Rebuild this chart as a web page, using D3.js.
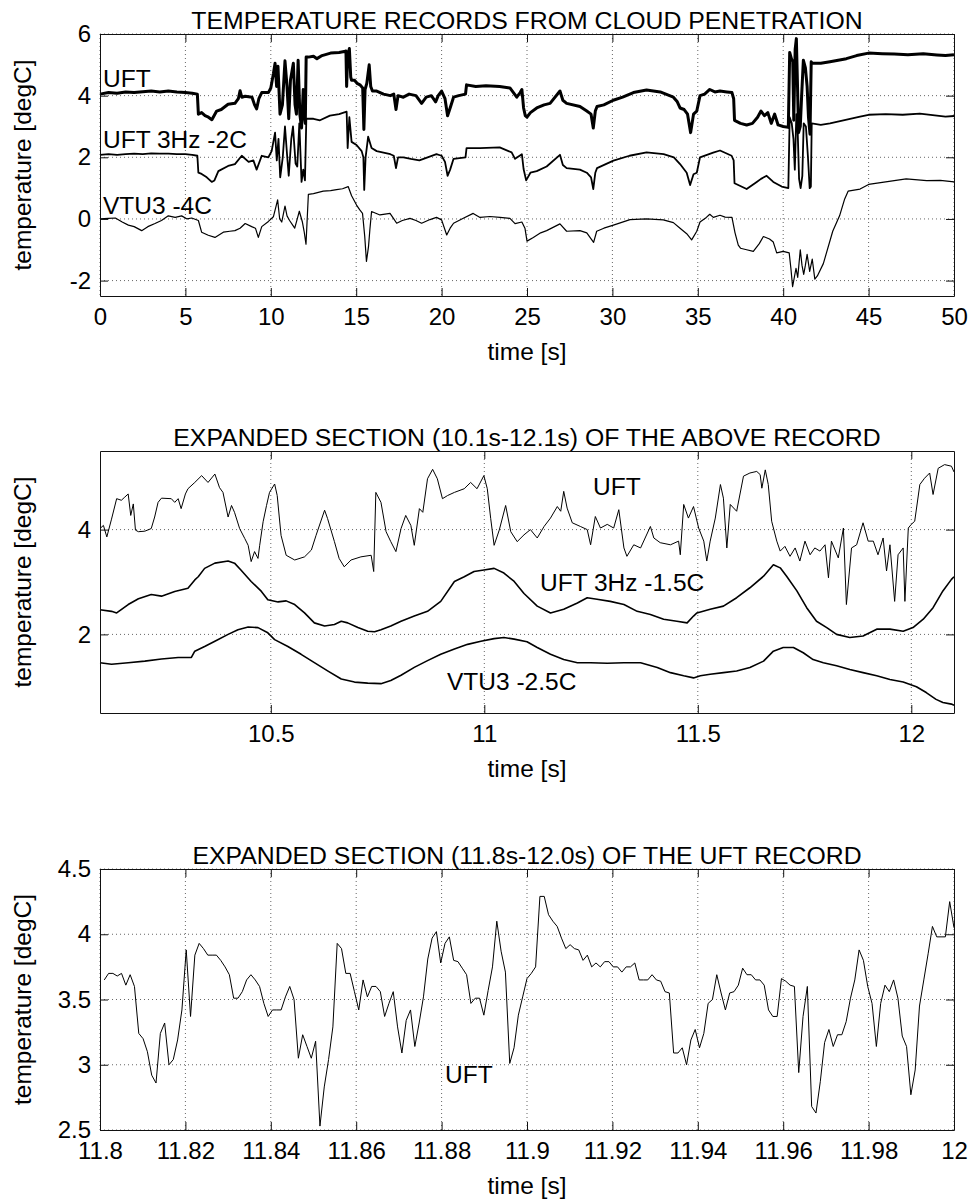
<!DOCTYPE html>
<html>
<head>
<meta charset="utf-8">
<script src="https://cdn.jsdelivr.net/npm/d3@7"></script>
<style>
  body { margin: 0; background: #fff; }
  text { font-family: "Liberation Sans", Arial, Helvetica, sans-serif; fill: #000; }
</style>
</head>
<body>
<svg width="972" height="1201"></svg>
<script>
// ---- panel 1: 0-50 s, [time, degC] ----
var uft = [[0,4.05],[0.5,4.1],[1,4.08],[1.5,4.12],[2,4.1],[2.5,4.13],[3,4.15],[3.5,4.12],[4,4.15],[4.5,4.12],[5,4.1],[5.4,4.08],[5.7,4.05],
  [5.76,3.4],[5.95,3.45],[6.15,3.35],[6.35,3.3],[6.55,3.22],[6.83,3.5],[7.1,3.55],[7.5,3.72],[7.9,3.75],[8.1,3.9],[8.2,4.16],[8.3,3.95],[8.5,3.98],[8.9,3.95],[9.05,3.7],[9.17,3.57],[9.3,3.9],[9.47,4.1],[9.86,4.1],
  [10.0,4.25],[10.15,4.7],[10.25,5.05],[10.34,4.3],[10.42,4.95],[10.54,3.4],[10.68,3.7],[10.83,5.13],[10.95,4.3],[11.05,3.25],[11.15,4.5],[11.32,5.05],[11.42,3.7],[11.5,3.4],[11.6,5.15],[11.7,3.4],[11.8,2.95],[11.9,4.2],[11.96,3.4],[12.02,3.1],[12.07,5.25],
  [12.2,5.25],[12.5,5.28],[12.7,5.2],[13.0,5.3],[13.5,5.38],[14.0,5.4],[14.3,5.43],[14.4,5.45],[14.44,4.3],[14.5,5.3],[14.6,5.53],[14.68,4.6],[14.73,4.5],[14.9,4.5],[15.05,4.4],[15.22,4.35],[15.38,4.25],[15.45,2.9],[15.52,4.2],[15.62,4.4],[15.76,5.0],[15.85,4.3],[15.95,4.15],
  [16.2,4.15],[16.6,4.05],[17.0,4.0],[17.2,4.05],[17.33,3.55],[17.45,4.0],[17.76,3.95],[18.1,4.05],[18.5,4.0],[18.83,3.75],[19.1,3.95],[19.4,4.0],[19.65,3.8],[19.8,4.0],[20.0,4.15],[20.2,3.9],[20.35,3.35],[20.5,3.6],[20.7,3.95],[21.0,4.0],[21.4,4.05],[21.46,4.35],
  [22.0,4.3],[22.6,4.32],[23.4,4.3],[24.0,4.25],[24.4,3.95],[24.6,4.1],[24.7,4.2],[24.8,3.6],[24.9,3.35],[25.0,3.3],[25.2,3.45],[25.57,3.6],[26.0,3.7],[26.35,3.75],[26.93,4.15],[27.1,3.85],[27.32,3.75],[28.1,3.65],[28.5,3.5],[28.75,3.4],[28.88,2.95],[29.0,3.5],[29.1,3.65],[29.5,3.7],
  [30.05,3.85],[30.6,3.95],[31.23,4.1],[32.0,4.18],[32.8,4.12],[33.57,3.95],[33.8,3.8],[33.96,3.6],[34.2,3.55],[34.4,3.4],[34.58,2.8],[34.75,3.4],[34.94,3.5],[35.13,4.0],[35.4,4.05],[35.7,4.2],[36.0,4.12],[36.3,4.15],[36.7,4.12],[37.0,4.1],[37.1,3.9],
  [37.15,3.2],[37.5,3.1],[37.86,3.05],[38.2,3.1],[38.5,3.3],[38.7,3.5],[38.9,3.35],[39.1,3.45],[39.3,3.1],[39.5,3.4],[39.7,3.05],[40.0,3.0],[40.3,2.97],
  [40.38,5.4],[40.48,5.2],[40.56,5.1],[40.62,3.2],[40.7,5.5],[40.77,5.85],[40.83,4.5],[40.9,2.8],[41.0,3.0],[41.08,4.0],[41.18,5.15],[41.3,4.9],[41.4,4.3],[41.48,3.3],[41.57,2.75],[41.64,5.1],[41.7,5.05],
  [42.2,5.05],[42.74,5.1],[43.7,5.2],[44.3,5.3],[45.0,5.38],[45.8,5.36],[46.5,5.35],[47.3,5.33],[48.2,5.36],[49.0,5.32],[49.5,5.3],[50,5.33]];

var uft3hz = [[0,2.08],[0.5,2.1],[1,2.08],[1.5,2.1],[2,2.12],[2.5,2.1],[3,2.13],[3.5,2.12],[4,2.12],[4.5,2.1],[5,2.1],[5.4,2.08],[5.7,2.05],
  [5.76,1.5],[5.95,1.46],[6.25,1.35],[6.54,1.2],[6.7,1.25],[6.93,1.55],[7.5,1.72],[7.9,1.78],[8.3,2.05],[8.7,1.85],[8.98,1.9],[9.17,1.6],[9.47,2.05],[9.86,2.0],
  [10.05,2.2],[10.25,2.8],[10.35,1.9],[10.45,2.6],[10.55,1.35],[10.7,2.0],[10.83,3.0],[10.95,2.1],[11.05,1.4],[11.2,2.6],[11.3,3.0],[11.45,1.8],[11.55,1.7],[11.67,3.1],[11.8,1.2],[11.9,1.6],[12.0,1.25],[12.08,3.25],
  [12.5,3.25],[12.88,3.2],[13.46,3.35],[14.0,3.4],[14.44,3.48],[14.5,2.3],[14.6,3.3],[14.73,2.5],[15.02,2.4],[15.32,2.2],[15.42,2.0],[15.47,0.94],[15.55,2.0],[15.7,2.67],[15.9,2.3],
  [16.2,2.2],[16.6,2.15],[17.0,2.1],[17.2,2.05],[17.33,1.65],[17.45,2.0],[17.76,2.0],[18.2,1.95],[18.7,1.9],[19.1,1.98],[19.7,2.1],[20.0,2.05],[20.2,1.85],[20.35,1.4],[20.5,1.6],[20.7,1.95],[21.4,2.0],[21.46,2.3],
  [22.25,2.3],[23.4,2.32],[24.1,2.16],[24.3,1.95],[24.7,2.1],[24.8,1.62],[24.95,1.25],[25.2,1.5],[25.57,1.55],[26.15,1.7],[26.93,2.08],[27.1,1.75],[27.32,1.65],[28.1,1.6],[28.5,1.5],[28.75,1.35],[28.88,0.97],[29.0,1.5],[29.1,1.65],
  [30.06,1.89],[31.0,2.05],[32.0,2.16],[33.0,2.1],[33.6,2.0],[33.96,1.78],[34.35,1.5],[34.55,1.1],[34.75,1.45],[34.94,1.5],[35.13,2.0],[35.9,2.15],[36.3,2.22],[36.98,2.05],[37.1,1.9],
  [37.15,1.16],[37.86,0.97],[38.45,1.2],[38.7,1.3],[39.03,1.4],[39.42,1.2],[39.91,1.05],[40.3,1.0],
  [40.38,3.3],[40.5,3.1],[40.6,2.6],[40.68,1.6],[40.77,3.4],[40.85,2.8],[40.93,1.3],[41.02,1.0],[41.12,1.4],[41.2,3.1],[41.33,3.0],[41.45,2.0],[41.55,1.0],[41.62,1.05],[41.67,3.1],
  [42.2,3.05],[42.74,3.1],[43.72,3.22],[44.5,3.32],[45.0,3.38],[46,3.4],[47,3.38],[48,3.42],[49,3.35],[49.5,3.32],[50,3.34]];

var vtu3 = [[0,0.0],[0.5,0.02],[0.9,0.03],[1.3,-0.1],[1.66,-0.2],[2.0,-0.25],[2.44,-0.38],[2.8,-0.25],[3.22,-0.15],[3.6,-0.05],[4.0,0.1],[4.4,0.05],[4.78,0.1],[5.1,0.0],[5.37,0.03],[5.76,-0.05],
  [5.95,-0.43],[6.34,-0.53],[6.73,-0.6],[7.22,-0.43],[7.6,-0.4],[7.9,-0.38],[8.2,-0.3],[8.5,-0.15],[8.88,-0.25],[9.1,-0.3],[9.27,-0.6],[9.47,-0.25],[9.86,-0.08],
  [10.15,0.07],[10.28,0.35],[10.4,0.62],[10.52,0.0],[10.64,-0.1],[10.75,0.2],[10.83,0.42],[10.95,0.1],[11.1,-0.05],[11.4,-0.3],[11.55,0.0],[11.67,0.25],[11.85,-0.1],[11.95,-0.4],[12.06,-0.82],
  [12.2,0.8],[12.5,0.82],[13.07,0.9],[13.5,0.92],[13.85,0.95],[14.2,0.98],[14.53,1.05],[14.73,0.75],[15.02,0.45],[15.2,0.3],[15.37,0.18],[15.5,-0.57],[15.6,-1.38],[15.72,-0.9],[15.8,-0.35],[15.9,0.24],
  [16.39,0.13],[16.98,0.18],[17.2,0.0],[17.37,-0.14],[17.7,-0.05],[18.15,0.02],[18.5,-0.05],[18.83,-0.14],[19.32,-0.02],[19.7,0.05],[20.0,-0.03],[20.3,-0.52],[20.5,-0.3],[20.7,-0.14],[21.27,0.02],[21.85,0.18],
  [22.25,0.05],[22.83,0.08],[23.42,0.05],[24.0,0.02],[24.3,-0.15],[24.7,-0.1],[24.88,-0.3],[25.0,-0.72],[25.37,-0.6],[25.8,-0.45],[26.15,-0.38],[26.93,-0.16],[27.32,-0.4],[28.1,-0.38],[28.5,-0.45],[28.9,-0.76],[29.08,-0.4],[29.5,-0.3],
  [30.06,-0.2],[31.03,-0.02],[32.0,0.0],[32.98,-0.03],[33.57,-0.12],[33.96,-0.3],[34.35,-0.48],[34.64,-0.68],[34.94,-0.4],[35.13,-0.1],[35.5,0.05],[35.7,0.15],[35.91,0.05],[36.3,0.12],[36.6,0.06],[37.0,0.05],
  [37.18,-0.45],[37.37,-0.85],[37.5,-0.95],[37.86,-1.0],[38.25,-1.05],[38.6,-0.8],[38.84,-0.57],[39.2,-0.65],[39.42,-0.75],[39.62,-1.1],[40.0,-1.05],[40.35,-1.1],
  [40.45,-1.6],[40.55,-2.2],[40.65,-1.9],[40.75,-1.6],[40.85,-1.9],[41.0,-1.0],[41.1,-1.5],[41.2,-1.8],[41.3,-1.5],[41.4,-1.15],[41.55,-1.7],[41.7,-1.3],[41.85,-1.95],[42.0,-1.85],[42.35,-1.45],
  [42.9,-0.4],[43.3,0.1],[43.6,0.65],[43.8,0.9],[44.5,0.97],[45.0,1.12],[46.0,1.2],[47.2,1.3],[48.4,1.24],[49.2,1.25],[50,1.2]];

// ---- panel 2: 10.1-12.1 s ----
var uftZoom = [[10.1,4.02],[10.108,4.08],[10.116,3.86],[10.127,4.2],[10.139,4.59],[10.15,4.56],[10.158,4.62],[10.166,4.68],[10.172,4.27],[10.178,4.49],[10.183,3.99],[10.19,3.96],[10.205,3.97],[10.22,4.02],[10.228,4.24],[10.236,4.52],[10.244,4.6],[10.267,4.59],[10.275,4.52],[10.283,4.59],[10.29,4.4],[10.3,4.68],[10.306,4.78],[10.322,4.9],[10.338,5.03],[10.353,4.9],[10.369,5.06],[10.38,4.8],[10.388,4.71],[10.4,4.24],[10.408,4.46],[10.415,4.33],[10.427,4.02],[10.439,3.83],[10.447,3.7],[10.454,3.39],[10.462,3.58],[10.47,3.45],[10.474,3.7],[10.482,4.15],[10.49,4.46],[10.497,4.71],[10.509,4.87],[10.515,4.65],[10.524,3.89],[10.536,3.51],[10.556,3.42],[10.579,3.48],[10.595,3.61],[10.606,3.89],[10.626,4.37],[10.633,4.21],[10.649,3.77],[10.66,3.45],[10.672,3.29],[10.688,3.42],[10.711,3.48],[10.735,3.51],[10.741,3.2],[10.746,4.71],[10.758,4.52],[10.77,3.96],[10.781,3.77],[10.793,3.58],[10.805,4.02],[10.816,4.27],[10.828,4.08],[10.836,3.7],[10.848,4.4],[10.856,4.33],[10.867,4.97],[10.879,5.15],[10.89,4.97],[10.902,4.59],[10.914,4.65],[10.93,4.71],[10.953,4.78],[10.968,4.9],[10.983,4.78],[10.999,5.03],[11.007,4.78],[11.015,4.21],[11.023,3.7],[11.035,3.99],[11.05,4.46],[11.062,3.96],[11.077,3.77],[11.093,3.9],
  [11.108,4.0],[11.124,3.84],[11.14,4.06],[11.155,4.22],[11.171,4.44],[11.179,4.35],[11.186,4.73],[11.194,4.41],[11.206,4.13],[11.225,4.06],[11.241,4.0],[11.249,3.71],[11.26,4.25],[11.272,4.03],[11.288,4.1],[11.303,4.03],[11.315,4.38],[11.327,3.65],[11.334,3.49],[11.35,3.71],[11.366,3.65],[11.389,4.06],[11.397,3.84],[11.412,3.75],[11.436,3.71],[11.455,3.78],[11.459,3.52],[11.467,4.48],[11.478,4.22],[11.49,4.44],[11.502,4.03],[11.514,3.78],[11.521,3.4],[11.529,3.78],[11.541,4.22],[11.553,4.86],[11.56,4.6],[11.568,3.65],[11.576,4.48],[11.591,4.35],[11.607,5.02],[11.622,5.08],[11.638,5.11],[11.646,5.05],[11.65,4.79],[11.658,5.14],[11.665,4.86],[11.673,4.16],[11.685,3.78],[11.693,3.59],[11.704,3.68],[11.716,3.49],[11.728,3.65],[11.739,3.4],[11.751,3.78],[11.763,3.52],[11.774,3.65],[11.786,3.59],[11.798,3.71],[11.806,3.08],[11.813,3.78],[11.829,3.46],[11.841,4.03],[11.848,2.57],[11.86,3.65],[11.872,3.71],[11.887,4.13],[11.899,3.78],[11.911,3.78],[11.922,3.52],[11.934,3.84],[11.942,3.21],[11.95,3.71],[11.961,2.63],[11.969,3.52],[11.981,3.65],[11.985,2.63],[11.993,4.03],[12.0,4.1],[12.008,4.16],[12.02,4.86],[12.031,4.98],[12.043,5.08],[12.051,4.67],[12.063,5.17],[12.078,5.24],[12.094,5.21],[12.1,5.1]];

var uft3hzZoom = [[10.1,2.47],[10.127,2.44],[10.139,2.41],[10.166,2.57],[10.19,2.68],[10.22,2.76],[10.244,2.73],[10.275,2.82],[10.306,2.88],[10.322,3.04],[10.33,3.1],[10.345,3.26],[10.369,3.36],[10.4,3.4],[10.415,3.36],[10.43,3.23],[10.454,3.01],[10.478,2.82],[10.493,2.66],[10.517,2.62],[10.536,2.64],[10.556,2.57],[10.579,2.41],[10.602,2.22],[10.626,2.16],[10.649,2.19],[10.665,2.25],[10.68,2.22],[10.704,2.13],[10.727,2.06],[10.743,2.05],[10.758,2.09],[10.781,2.16],[10.805,2.25],[10.836,2.35],[10.867,2.44],[10.898,2.63],[10.93,3.01],[10.953,3.1],[10.976,3.2],[10.999,3.23],[11.023,3.26],[11.046,3.17],[11.07,3.01],[11.093,2.78],
  [11.124,2.54],[11.155,2.41],[11.186,2.48],[11.218,2.6],[11.241,2.7],[11.264,2.67],[11.295,2.63],[11.327,2.57],[11.358,2.44],[11.389,2.38],[11.42,2.29],[11.451,2.25],[11.475,2.22],[11.49,2.35],[11.498,2.41],[11.529,2.48],[11.56,2.54],[11.591,2.7],[11.622,2.89],[11.654,3.11],[11.677,3.33],[11.693,3.27],[11.708,3.11],[11.732,2.83],[11.755,2.51],[11.778,2.25],[11.802,2.13],[11.825,2.0],[11.856,1.94],[11.887,1.97],[11.919,2.1],[11.95,2.1],[11.981,2.06],[12.004,2.13],[12.028,2.29],[12.051,2.51],[12.074,2.83],[12.094,3.05],[12.1,3.1]];

var vtu3Zoom = [[10.1,1.46],[10.127,1.43],[10.166,1.46],[10.205,1.49],[10.244,1.53],[10.283,1.56],[10.314,1.56],[10.322,1.68],[10.345,1.77],[10.369,1.87],[10.4,2.0],[10.423,2.09],[10.447,2.14],[10.47,2.13],[10.493,2.03],[10.509,1.9],[10.54,1.77],[10.571,1.62],[10.602,1.46],[10.634,1.3],[10.665,1.15],[10.696,1.09],[10.727,1.07],[10.758,1.06],[10.781,1.12],[10.805,1.22],[10.836,1.37],[10.867,1.5],[10.898,1.62],[10.93,1.72],[10.961,1.81],[10.992,1.87],[11.023,1.92],[11.046,1.94],[11.07,1.91],[11.1,1.86],
  [11.124,1.75],[11.155,1.62],[11.186,1.52],[11.218,1.46],[11.249,1.46],[11.288,1.45],[11.327,1.46],[11.366,1.46],[11.405,1.37],[11.436,1.27],[11.467,1.21],[11.49,1.17],[11.506,1.21],[11.529,1.24],[11.56,1.27],[11.591,1.3],[11.622,1.37],[11.654,1.49],[11.677,1.68],[11.7,1.75],[11.724,1.75],[11.747,1.65],[11.77,1.52],[11.794,1.46],[11.825,1.4],[11.856,1.33],[11.887,1.27],[11.919,1.21],[11.95,1.14],[11.981,1.09],[12.012,1.0],[12.035,0.89],[12.058,0.76],[12.074,0.7],[12.094,0.67],[12.1,0.65]];

// ---- panel 3: UFT samples 11.801-12.000 s, 1 kHz ----
var p3Start = 11.801, p3End = 12.0;
var uftSamples = [3.65,3.70,3.70,3.68,3.70,3.61,3.69,3.60,3.24,3.20,3.10,2.92,2.86,3.24,3.32,3.00,3.04,3.19,3.42,3.88,
  3.37,3.84,3.93,3.89,3.84,3.84,3.84,3.80,3.75,3.69,3.51,3.51,3.56,3.65,3.69,3.65,3.60,3.47,3.37,3.42,
  3.42,3.42,3.52,3.60,3.50,3.05,3.23,3.14,3.05,3.18,2.53,2.83,3.04,3.29,3.93,3.89,3.70,3.70,3.56,3.42,
  3.65,3.52,3.60,3.60,3.56,3.37,3.47,3.56,3.29,3.09,3.34,3.42,3.14,3.32,3.52,3.81,3.97,4.02,3.78,3.93,
  3.98,3.80,3.79,3.74,3.69,3.47,3.51,3.51,
  3.38,3.57,3.75,4.10,3.87,3.71,3.01,3.13,3.38,3.52,3.66,3.70,3.75,4.29,4.29,4.15,4.10,4.06,3.97,3.89,
  3.92,3.89,3.88,3.80,3.84,3.75,3.78,3.75,3.79,3.79,3.75,3.75,3.71,3.75,3.75,3.78,3.65,3.65,3.65,3.69,
  3.65,3.64,3.56,3.55,3.09,3.09,3.13,3.00,3.19,3.27,3.13,3.24,3.47,3.50,3.69,3.55,3.42,3.55,3.56,3.61,
  3.74,3.69,3.69,3.65,3.65,3.61,3.42,3.37,3.37,3.66,3.64,3.61,3.60,2.94,3.37,3.60,2.68,2.63,2.87,3.17,
  3.27,3.14,3.23,3.23,3.33,3.51,3.65,3.88,3.80,3.60,3.47,3.14,3.47,3.61,3.56,3.65,3.51,3.22,3.14,2.77,
  2.96,3.45,3.65,3.85,4.06,3.98,3.98,3.98,4.25,4.05];

var ticks1x = [0, 5, 10, 15, 20, 25, 30, 35, 40, 45, 50], ticks1y = [-2, 0, 2, 4, 6];
var ticks2x = [10.5, 11, 11.5, 12], ticks2y = [2, 4];
var ticks3x = [11.8, 11.82, 11.84, 11.86, 11.88, 11.9, 11.92, 11.94, 11.96, 11.98, 12], ticks3y = [2.5, 3, 3.5, 4, 4.5];

var svg = d3.select("svg"),
    left = 100, right = 954;

// plain number text, hyphen minus as in the original
var plain = function(d) { return String(d); };

function panel(p) {
  var x = d3.scaleLinear().domain(p.xd).range([left, right]),
      y = d3.scaleLinear().domain(p.yd).range([p.bottom, p.top]);
  var g = svg.append("g");

  // dotted grid
  g.append("g").selectAll("line").data(p.xt).enter().append("line")
      .attr("x1", function(d) { return x(d); }).attr("x2", function(d) { return x(d); })
      .attr("y1", p.top).attr("y2", p.bottom);
  g.append("g").selectAll("line").data(p.yt).enter().append("line")
      .attr("x1", left).attr("x2", right)
      .attr("y1", function(d) { return y(d); }).attr("y2", function(d) { return y(d); });
  g.selectAll("line").attr("stroke", "#666").attr("stroke-width", 1).attr("stroke-dasharray", "1,3");

  // traces
  p.series.forEach(function(s) {
    g.append("path")
        .datum(s.data)
        .attr("fill", "none")
        .attr("stroke", "#000")
        .attr("stroke-width", s.w)
        .attr("stroke-linejoin", "round")
        .attr("d", d3.line().x(function(d) { return x(d[0]); }).y(function(d) { return y(d[1]); }));
  });

  // box with inward ticks
  g.append("g").attr("transform", "translate(0," + p.bottom + ")")
      .call(d3.axisBottom(x).tickValues(p.xt).tickFormat(plain).tickSizeInner(-8).tickSizeOuter(0).tickPadding(12));
  g.append("g").attr("transform", "translate(0," + p.top + ")")
      .call(d3.axisTop(x).tickValues(p.xt).tickFormat("").tickSizeInner(-8).tickSizeOuter(0));
  g.append("g").attr("transform", "translate(" + left + ",0)")
      .call(d3.axisLeft(y).tickValues(p.yt).tickFormat(plain).tickSizeInner(-8).tickSizeOuter(0).tickPadding(9));
  g.append("g").attr("transform", "translate(" + right + ",0)")
      .call(d3.axisRight(y).tickValues(p.yt).tickFormat("").tickSizeInner(-8).tickSizeOuter(0));
  g.selectAll(".domain, .tick line").attr("stroke", "#111");
  g.selectAll(".tick text").attr("font-size", 24).attr("font-family", null);

  g.append("text").attr("x", (left + right) / 2).attr("y", p.top - 5)
      .attr("text-anchor", "middle").attr("font-size", 24.8).text(p.title);
  g.append("text").attr("x", (left + right) / 2).attr("y", p.bottom + 64)
      .attr("text-anchor", "middle").attr("font-size", 24.5).text("time [s]");
  g.append("text").attr("transform", "translate(31," + (p.top + p.bottom) / 2 + ") rotate(-90)")
      .attr("text-anchor", "middle").attr("font-size", 24.5).text("temperature [degC]");

  p.labels.forEach(function(l) {
    g.append("text").attr("x", l[1]).attr("y", l[2]).attr("font-size", 24.5).text(l[0]);
  });
}

panel({
  top: 34, bottom: 296, xd: [0, 50], yd: [-2.5, 6], xt: ticks1x, yt: ticks1y,
  title: "TEMPERATURE RECORDS FROM CLOUD PENETRATION",
  series: [{data: uft, w: 3}, {data: uft3hz, w: 1.8}, {data: vtu3, w: 1.2}],
  labels: [["UFT", 103, 87], ["UFT 3Hz -2C", 103, 148], ["VTU3 -4C", 103, 214]]
});

panel({
  top: 451, bottom: 713, xd: [10.1, 12.1], yd: [0.5, 5.5], xt: ticks2x, yt: ticks2y,
  title: "EXPANDED SECTION (10.1s-12.1s) OF THE ABOVE RECORD",
  series: [{data: uftZoom, w: 1}, {data: uft3hzZoom, w: 1.6}, {data: vtu3Zoom, w: 1.6}],
  labels: [["UFT", 593, 495], ["UFT 3Hz -1.5C", 540, 591], ["VTU3 -2.5C", 447, 690]]
});

var p3 = uftSamples.map(function(v, i) {
  return [p3Start + i * (p3End - p3Start) / (uftSamples.length - 1), v];
});
panel({
  top: 869, bottom: 1130, xd: [11.8, 12], yd: [2.5, 4.5], xt: ticks3x, yt: ticks3y,
  title: "EXPANDED SECTION (11.8s-12.0s) OF THE UFT RECORD",
  series: [{data: p3, w: 1}],
  labels: [["UFT", 445, 1083]]
});
</script>
</body>
</html>
